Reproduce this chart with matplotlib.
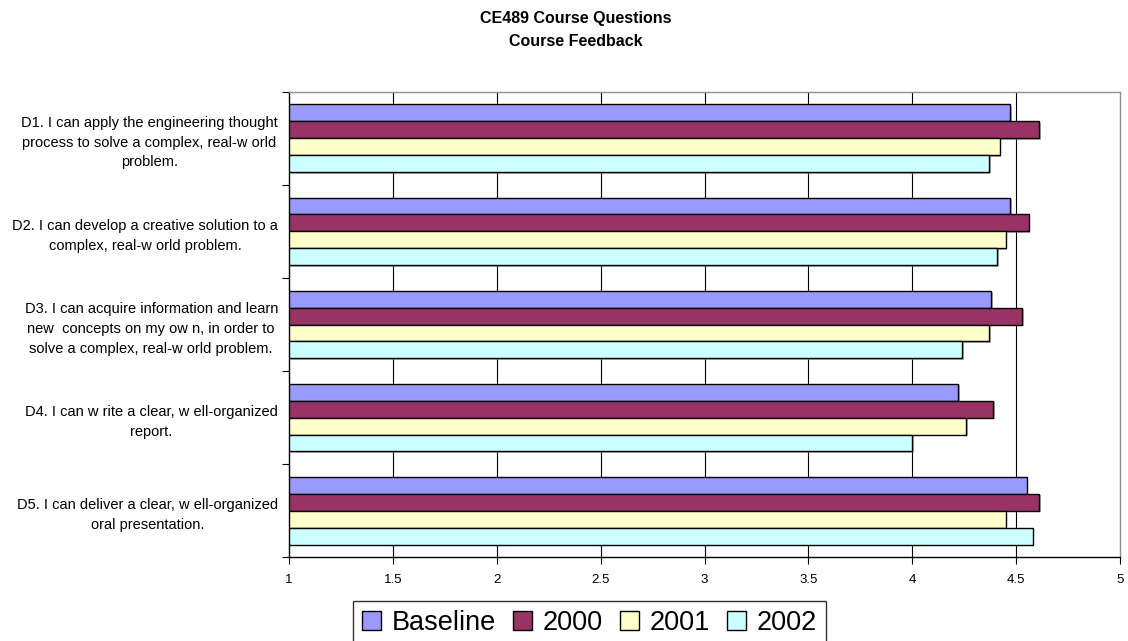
import matplotlib
matplotlib.use("Agg")
import matplotlib.pyplot as plt
import matplotlib.patheffects as pe
from matplotlib.patches import Patch
import numpy as np

plt.rcParams['font.family'] = ['Liberation Sans', 'DejaVu Sans']

questions = [
    "D1. I can apply the engineering thought\nprocess to solve a complex, real-w orld\nproblem.",
    "D2. I can develop a creative solution to a\ncomplex, real-w orld problem.",
    "D3. I can acquire information and learn\nnew  concepts on my ow n, in order to\nsolve a complex, real-w orld problem.",
    "D4. I can w rite a clear, w ell-organized\nreport.",
    "D5. I can deliver a clear, w ell-organized\noral presentation.",
]
series_names = ["Baseline", "2000", "2001", "2002"]
baseline = [4.47, 4.47, 4.38, 4.22, 4.55]
y2000 = [4.61, 4.56, 4.53, 4.39, 4.61]
y2001 = [4.42, 4.45, 4.37, 4.26, 4.45]
y2002 = [4.37, 4.41, 4.24, 4.00, 4.58]
x_ticks = [1, 1.5, 2, 2.5, 3, 3.5, 4, 4.5, 5]
x_tick_labels = ["1", "1.5", "2", "2.5", "3", "3.5", "4", "4.5", "5"]

colors = ["#9999FF", "#993366", "#FFFFCC", "#CCFFFF"]
series = [baseline, y2000, y2001, y2002]

fig = plt.figure(figsize=(11.28, 6.41), dpi=100)
ax = fig.add_axes([289 / 1128, 1 - 557.3 / 641, (1120 - 289) / 1128, (557.3 - 91.7) / 641])

n_cat = len(questions)
bar_h = 1 / 5.5
centers = np.arange(n_cat)
shadow = [pe.SimplePatchShadow(offset=(1.2, -1.2), shadow_rgbFace="#808080", alpha=0.6), pe.Normal()]
for i, (vals, col, name) in enumerate(zip(series, colors, series_names)):
    pos = centers + (i - 1.5) * bar_h
    ax.barh(pos, np.array(vals) - 1, left=1, height=bar_h, color=col,
            edgecolor="black", linewidth=1.0, label=name, zorder=3,
            path_effects=shadow)

ax.set_xlim(1, 5)
ax.set_ylim(n_cat - 0.5, -0.5)

# vertical gridlines
for xv in x_ticks[1:-1]:
    ax.axvline(xv, color="black", linewidth=0.8, zorder=1)

ax.set_xticks(x_ticks)
ax.set_xticklabels(x_tick_labels, fontsize=9.5)
ax.set_yticks(centers)
ax.set_yticklabels(questions, fontsize=10.5, multialignment="center", linespacing=1.52)
ax.set_yticks(np.arange(n_cat + 1) - 0.5, minor=True)
ax.tick_params(axis="y", which="major", length=0, pad=8)
ax.tick_params(axis="y", which="minor", length=5, direction="out", width=0.8)
ax.tick_params(axis="x", length=5, direction="out", width=0.8, pad=7)

for side in ["left", "bottom"]:
    ax.spines[side].set_color("black")
    ax.spines[side].set_linewidth(1.0)
for side in ["top", "right"]:
    ax.spines[side].set_color("#909090")
    ax.spines[side].set_linewidth(1.0)

fig.text(576 / 1128, 1 - 30 / 641, "CE489 Course Questions\nCourse Feedback",
         ha="center", va="center", fontsize=11.5, fontweight="bold", linespacing=1.6)

handles = [Patch(facecolor=c, edgecolor="black", linewidth=1.0) for c in colors]
leg = fig.legend(handles, series_names, loc="center", bbox_to_anchor=(589.5 / 1128, 1 - 623 / 641),
                 ncol=4, fontsize=19.5, frameon=True, fancybox=False, handlelength=0.68,
                 handleheight=0.68, handletextpad=0.4, columnspacing=0.65, borderpad=0.35,
                 borderaxespad=0)
leg.get_frame().set_edgecolor("black")
leg.get_frame().set_linewidth(1.0)

fig.savefig("out.png", dpi=100)
